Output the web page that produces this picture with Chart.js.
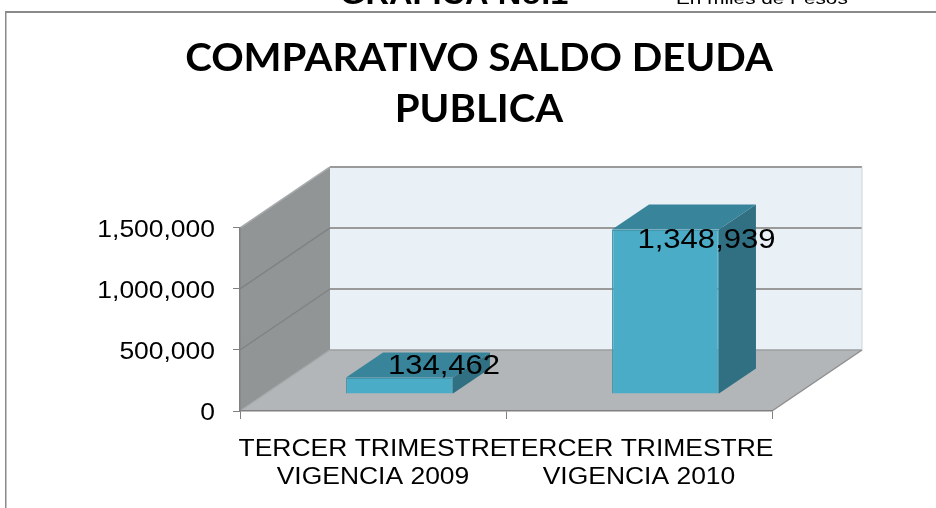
<!DOCTYPE html>
<html><head><meta charset="utf-8">
<style>html,body{margin:0;padding:0;background:#fff}canvas{display:block}</style>
<script src="https://cdn.jsdelivr.net/npm/chart.js@4/dist/chart.umd.min.js"></script>
</head><body><canvas id="c" width="936" height="508"></canvas>
<script>
const categories = [["TERCER TRIMESTRE","VIGENCIA 2009"],["TERCER TRIMESTRE","VIGENCIA 2010"]];
const saldoDeuda = [134462, 1348939];
const titleLines = ["COMPARATIVO SALDO DEUDA","PUBLICA"];
const heading = "GRAFICA No.1";
const unitNote = "En miles de Pesos";
const yMax = 1500000, yStep = 500000;

const floorDepth = {x:90, y:-61};
const barShift = {x:26.5, y:-17};
const barDepth = {x:37, y:-25};
const labelOffsets = [{x:71,y:-31},{x:67.5,y:-8.5}];
const STRETCH = 1.15, TITLE_STRETCH = 1.058, MIDDLE_NUDGE = 2.5;
const fmt = v => Math.round(v).toString().replace(/\B(?=(\d{3})+$)/g, ",");

function poly(ctx, pts, fill, stroke, lw){
  ctx.beginPath(); pts.forEach((p,i)=> i?ctx.lineTo(p[0],p[1]):ctx.moveTo(p[0],p[1])); ctx.closePath();
  if(fill){ctx.fillStyle=fill;ctx.fill();}
  if(stroke){ctx.strokeStyle=stroke;ctx.lineWidth=lw||1;ctx.stroke();}
}

const scene = {
  id:'scene',
  beforeInit(chart){
    // the reference image is horizontally stretched: widen all text around its anchor
    const ctx = chart.ctx, orig = ctx.fillText.bind(ctx);
    ctx.fillText = function(t,x,y){
      const lato = ctx.font.includes('Lato');
      const sx = ctx.__sx || (lato ? TITLE_STRETCH : STRETCH);
      const ny = (!lato && ctx.textBaseline==='middle') ? MIDDLE_NUDGE : 0;
      ctx.save(); ctx.translate(x,y+ny); ctx.scale(sx,1); orig(t,0,0); ctx.restore();
    };
  },
  afterLayout(chart){
    // centre the title over the reference's span, not the whole canvas
    chart.titleBlock.left = 186;
  },
  beforeDraw(chart){
    const ctx=chart.ctx, a=chart.chartArea, ys=chart.scales.y;
    const L=a.left,R=a.right,T=a.top,B=a.bottom,dx=floorDepth.x,dy=floorDepth.y;
    ctx.save();
    ctx.fillStyle='#fff'; ctx.fillRect(0,0,chart.width,chart.height);
    // frame
    ctx.fillStyle='#8a8a8a'; ctx.fillRect(5,11,931,2); ctx.fillRect(5,11,1.5,497);
    // clipped heading above the frame
    ctx.fillStyle='#000'; ctx.textAlign='left'; ctx.textBaseline='alphabetic';
    ctx.font='bold 32px "Liberation Sans"'; ctx.__sx=1.02; ctx.fillText(heading,340,4);
    ctx.font='17px "Liberation Sans"'; ctx.__sx=1.22; ctx.fillText(unitNote,676,4);
    ctx.__sx=undefined;
    // walls
    poly(ctx,[[L+dx,T+dy],[R+dx,T+dy],[R+dx,B+dy],[L+dx,B+dy]],'#e9f0f6');
    poly(ctx,[[L,T],[L+dx,T+dy],[L+dx,B+dy],[L,B]],'#919596');
    poly(ctx,[[L,B],[R,B],[R+dx,B+dy],[L+dx,B+dy]],'#b2b6b9');
    // gridlines through the y scale
    ys.ticks.forEach(t=>{
      const y=ys.getPixelForValue(t.value);
      ctx.strokeStyle=t.value===0?'#a6a9ab':(t.value===yMax?'#a8acae':'#7f8384'); ctx.lineWidth=1.5;
      ctx.beginPath(); ctx.moveTo(L,y); ctx.lineTo(L+dx,y+dy); ctx.stroke();
      ctx.strokeStyle=t.value===0?'#9c9fa1':'#9a9a9a'; ctx.lineWidth=t.value===0?1.5:2;
      ctx.beginPath(); ctx.moveTo(L+dx,y+dy); ctx.lineTo(R+dx,y+dy); ctx.stroke();
    });
    ctx.strokeStyle='#8f8f8f'; ctx.lineWidth=1.5;
    ctx.beginPath(); ctx.moveTo(R,B); ctx.lineTo(R+dx,B+dy); ctx.stroke();
    ctx.strokeStyle='#cfd5da'; ctx.lineWidth=1;
    ctx.beginPath(); ctx.moveTo(R+dx,T+dy); ctx.lineTo(R+dx,B+dy); ctx.stroke();
    ctx.restore();
  },
  beforeDatasetDraw(chart,args){
    const ctx=chart.ctx, meta=args.meta;
    meta.data.forEach(el=>{
      const l=el.x-el.width/2+barShift.x, r=el.x+el.width/2+barShift.x;
      const t=el.y+barShift.y, b=el.base+barShift.y, dx=barDepth.x, dy=barDepth.y;
      poly(ctx,[[r,t],[r+dx,t+dy],[r+dx,b+dy],[r,b]],'#316f83');
      poly(ctx,[[l,t],[r,t],[r+dx,t+dy],[l+dx,t+dy]],'#38849b');
    });
    ctx.save(); ctx.translate(barShift.x,barShift.y);
  },
  afterDatasetDraw(chart){ chart.ctx.restore(); },
  afterDraw(chart){
    const ctx=chart.ctx, meta=chart.getDatasetMeta(0);
    ctx.save(); ctx.fillStyle='#000'; ctx.font='27px "Liberation Sans"';
    ctx.textAlign='center'; ctx.textBaseline='middle';
    meta.data.forEach((el,i)=> ctx.fillText(fmt(saldoDeuda[i]),el.x+labelOffsets[i].x,el.y+labelOffsets[i].y));
    ctx.restore();
  }
};

new Chart(document.getElementById('c'),{
  type:'bar',
  data:{labels:categories,datasets:[{data:saldoDeuda,backgroundColor:'#4bacc8',borderColor:'#4196ae',borderWidth:1.5,barPercentage:0.402,categoryPercentage:1,clip:false}]},
  plugins:[scene],
  options:{
    responsive:false,animation:false,devicePixelRatio:1,
    layout:{padding:{left:0,right:164,top:0,bottom:0}},
    plugins:{legend:{display:false},tooltip:{enabled:false},
      title:{display:true,text:titleLines,color:'#000',
        font:{family:'Lato',weight:'bold',size:38,lineHeight:1.342},padding:{top:33,bottom:93}}},
    scales:{
      x:{offset:true,afterFit:s=>{s.height=97;},
        grid:{display:true,drawOnChartArea:false,drawTicks:true,tickLength:8,color:'#808080',offset:true},
        border:{display:true,color:'#808080',width:1.5},
        ticks:{color:'#000',autoSkip:false,maxRotation:0,padding:15,font:{family:'Liberation Sans',size:23,lineHeight:1.18}}},
      y:{min:0,max:yMax,afterFit:s=>{s.width=240;},
        grid:{display:true,drawOnChartArea:false,drawTicks:true,tickLength:7,color:'#808080'},
        border:{display:true,color:'#808080',width:1.5},
        ticks:{stepSize:yStep,color:'#000',padding:18,callback:v=>fmt(v),font:{family:'Liberation Sans',size:23}}}
    }
  }
});
</script></body></html>
